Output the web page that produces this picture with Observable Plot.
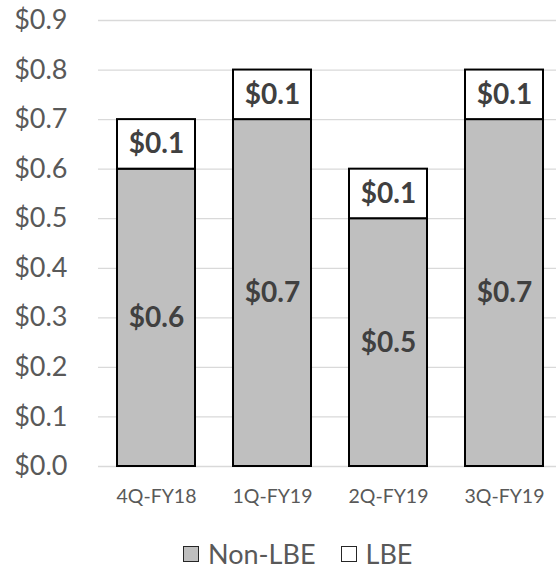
<!DOCTYPE html>
<html>
<head>
<meta charset="utf-8">
<script src="https://cdn.jsdelivr.net/npm/d3@7"></script>
<script src="https://cdn.jsdelivr.net/npm/@observablehq/plot@0.6"></script>
<style>
  body { margin: 0; background: #fff; font-family: Lato, "Open Sans", sans-serif; }
  #wrap { position: relative; width: 556px; height: 569px; overflow: hidden; }
  #legend { position: absolute; left: 183px; top: 538px; display: flex; align-items: center; font-size: 27px; color: #595959; line-height: 32px; }
  .sw { width: 14px; height: 14px; border: 1.5px solid #262626; display: inline-block; margin-right: 9px; }
</style>
</head>
<body>
<div id="wrap"><div id="chart"></div><div id="legend"></div></div>
<script>
const quarters = ["4Q-FY18", "1Q-FY19", "2Q-FY19", "3Q-FY19"];
const nonLBE = [0.6, 0.7, 0.5, 0.7];
const lbe = [0.1, 0.1, 0.1, 0.1];
const series = ["Non-LBE", "LBE"];
const seriesColors = ["#bfbfbf", "#ffffff"];
const yTicks = [0, 0.1, 0.2, 0.3, 0.4, 0.5, 0.6, 0.7, 0.8, 0.9];

const data = [];
quarters.forEach((q, i) => {
  data.push({quarter: q, series: "Non-LBE", value: nonLBE[i]});
  data.push({quarter: q, series: "LBE", value: lbe[i]});
});
const fmt = v => "$" + v.toFixed(1);

const chart = Plot.plot({
  width: 556,
  height: 520,
  marginTop: 20,
  marginBottom: 54,
  marginLeft: 98,
  marginRight: 0,
  style: {fontFamily: "Lato, 'Open Sans', sans-serif", background: "#fff"},
  x: {domain: quarters, range: [98, 562], paddingInner: 0.33, paddingOuter: 0.165, label: null},
  y: {domain: [0, 0.9], label: null},
  color: {domain: series, range: seriesColors},
  marks: [
    Plot.ruleY(yTicks, {stroke: "#d9d9d9", strokeWidth: 1.3}),
    Plot.axisY({ticks: yTicks, tickSize: 0, tickPadding: 31, tickFormat: fmt, fontSize: 27, fill: "#595959", label: null}),
    Plot.axisX({tickSize: 0, tickPadding: 23, fontSize: 19.5, fill: "#595959", label: null}),
    Plot.barY(data, Plot.stackY({x: "quarter", y: "value", z: "series", fill: "series", order: series, stroke: "#000", strokeWidth: 2})),
    Plot.text(data, Plot.stackY({x: "quarter", y: "value", z: "series", order: series, text: d => fmt(d.value), fontSize: 28, fontWeight: "bold", fill: "#404040"}))
  ]
});
document.getElementById("chart").appendChild(chart);

const legend = document.getElementById("legend");
series.forEach((s, i) => {
  const sw = document.createElement("span");
  sw.className = "sw";
  sw.style.background = seriesColors[i];
  legend.appendChild(sw);
  const t = document.createElement("span");
  t.textContent = s;
  t.style.marginRight = i === 0 ? "25px" : "0";
  legend.appendChild(t);
});
</script>
</body>
</html>
